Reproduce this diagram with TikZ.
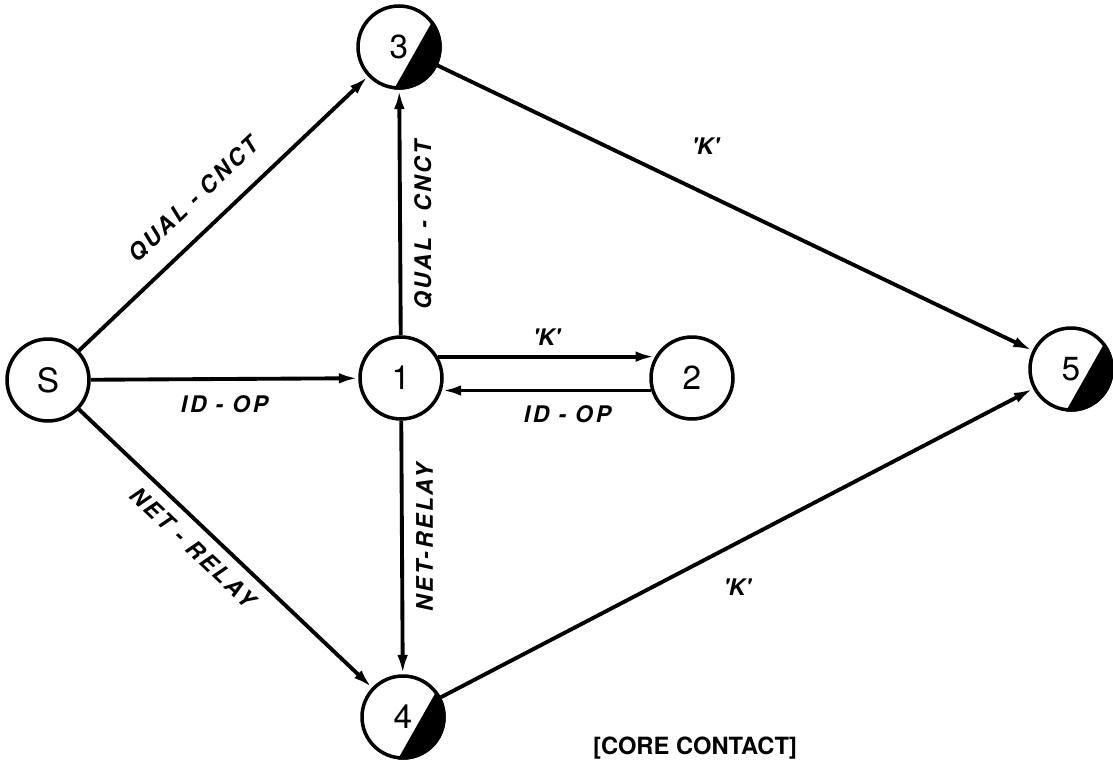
\documentclass[tikz,border=0pt]{standalone}
\usepackage{fontspec}
\setmainfont{TeX Gyre Heros}
\newfontfamily\edgefont[LetterSpace=12]{TeX Gyre Heros}
\usetikzlibrary{arrows.meta}

\begin{document}
\begin{tikzpicture}[x=0.02cm,y=0.02cm,>={Latex[length=11pt,width=6pt]},
  state/.style={circle,draw,line width=2pt,minimum size=1.64cm,inner sep=0pt,font=\fontsize{19}{19}\selectfont},
  trans/.style={->,line width=2.2pt},
  lbl/.style={font=\edgefont\bfseries\itshape\fontsize{13}{14}\selectfont}]
  \useasboundingbox (0,0) rectangle (1113,-767);
  % ---------------- states ----------------
  \node[state] (s) at (48,-380) {S};
  \node[state] (n1) at (401,-378) {1};
  \node[state] (n2) at (692,-378) {2};
  \node[state] (n3) at (399,-47) {3};
  \node[state] (n4) at (403,-717) {4};
  \node[state] (n5) at (1071,-369) {5};
  % final states: black segment
  \foreach \n in {n3,n4,n5}
    \fill (\n.38) arc[start angle=38,end angle=-97,radius=0.855cm] -- cycle;
  % ---------------- transitions ----------------
  \draw[trans] (s) -- node[lbl,sloped,above=8pt,pos=0.47] {QUAL - CNCT} (n3);
  \draw[trans] (s) -- node[lbl,below=5pt] {ID - OP} (n1);
  \draw[trans] (s) -- node[lbl,sloped,below=3pt,pos=0.44] {NET - RELAY} (n4);
  \draw[trans] (n1) -- node[lbl,rotate=90,anchor=north,inner ysep=7pt,pos=0.45] {QUAL - CNCT} (n3);
  \draw[trans] (n1) -- node[lbl,rotate=90,anchor=north,inner ysep=7pt,pos=0.46] {NET-RELAY} (n4);
  \draw[trans] (n1.30) -- node[lbl,above=2pt] {\textquotesingle K\textquotesingle} (n2.150);
  \draw[trans] (n2.-163) -- node[lbl,below=4pt,pos=0.4] {ID - OP} (n1.-17);
  \draw[trans] (n3) -- node[lbl,above=18pt,pos=0.45] {\textquotesingle K\textquotesingle} (n5);
  \draw[trans] (n4) -- node[lbl,below=16pt,pos=0.5] {\textquotesingle K\textquotesingle} (n5);
  % ---------------- caption ----------------
  \node[font=\bfseries\fontsize{13.5}{14}\selectfont] (cap) at (695,-748) {[CORE CONTACT]};
\end{tikzpicture}
\end{document}
